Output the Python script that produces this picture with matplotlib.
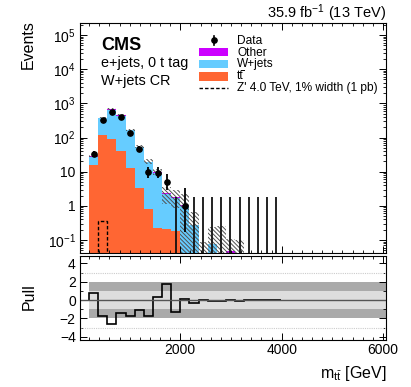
import numpy as np
import matplotlib
matplotlib.use('Agg')
import matplotlib.pyplot as plt
from matplotlib.ticker import NullFormatter, FixedLocator, FixedFormatter
from matplotlib.patches import Rectangle
from matplotlib.lines import Line2D

plt.rcParams['font.family'] = ['Liberation Sans', 'DejaVu Sans']
plt.rcParams['mathtext.fontset'] = 'custom'
plt.rcParams['mathtext.rm'] = 'Liberation Sans'
plt.rcParams['mathtext.it'] = 'Liberation Sans:italic'
plt.rcParams['mathtext.bf'] = 'Liberation Sans:bold'
plt.rcParams['mathtext.default'] = 'regular'
plt.rcParams['hatch.linewidth'] = 0.7
plt.rcParams['hatch.color'] = '#505050'

# ---------------- data ----------------
bin_low = 200
bin_width = 180
n_bins = 21
edges = bin_low + bin_width * np.arange(n_bins + 1)
centers = 0.5 * (edges[:-1] + edges[1:])

ttbar = np.array([15.8, 119, 89, 39, 12.6, 3.3, 0.82, 0.22, 0.21, 0.18, 0, 0, 0, 0, 0, 0, 0, 0, 0, 0, 0])
wjets = np.array([11.7, 241, 551, 394, 148, 47.7, 17.9, 9.2, 1.97, 1.49, 1.0, 0.27, 0.03, 0.077, 0.02, 0, 0.01, 0, 0, 0, 0])
other = np.array([1.5, 20, 35, 25, 9, 3, 1.1, 0.6, 0.12, 0.2, 0.05, 0.01, 0, 0, 0, 0.049, 0, 0, 0, 0, 0])
bkg_unc = np.array([2, 20, 35, 25, 12, 5, 3, 2, 1.2, 1.0, 1.2, 0.4, 0.06, 0.17, 0.23, 0.06, 0.09, 0, 0, 0, 0])

data = np.array([33, 335, 560, 408, 139, 47, 9.7, 9.4, 5.1, 0, 1, 0, 0, 0, 0, 0, 0, 0, 0, 0, 0])
data_err_lo = np.array([5.7, 18.3, 23.7, 20.2, 11.8, 6.8, 3.1, 3.0, 2.2, 0, 0.83, 0, 0, 0, 0, 0, 0, 0, 0, 0, 0])
data_err_hi = np.array([6.8, 19.3, 24.7, 21.2, 12.8, 7.9, 4.3, 4.2, 3.4, 1.84, 2.3, 1.84, 1.84, 1.84, 1.84,
                        1.84, 1.84, 1.84, 1.84, 1.84, 1.84])

signal = np.array([0, 0.36, 0, 0, 0, 0, 0, 0, 0, 0, 0, 0, 0, 0, 0, 0, 0, 0, 0, 0, 0])

pull = np.array([0.75, -1.77, -2.6, -1.43, -1.77, -1.06, -1.77, 0.38, 1.74, -1.32, 0.11, -0.3, 0.05, -0.06,
                 -0.15, -0.03, -0.1, 0, 0, 0, 0])

y_major = [0.1, 1, 10, 100, 1e3, 1e4, 1e5]
y_major_labels = [r'$10^{-1}$', '1', '10', r'$10^{2}$', r'$10^{3}$', r'$10^{4}$', r'$10^{5}$']
pull_ticks = [-4, -2, 0, 2, 4]
pull_ticklabels = ['\u22124', '\u22122', '0', '2', '4']
pull_minor = [-3, -1, 1, 3]

c_tt = '#ff6633'
c_wj = '#66ccff'
c_ot = '#cc00ff'

# ---------------- figure ----------------
W, H = 411, 387
fig = plt.figure(figsize=(W / 100, H / 100), dpi=100)

def fx(px):
    return px / W

def fy(py):
    return 1 - py / H

ax_l, ax_r = 80, 386
up_t, up_b = 22.7, 252.5
lo_t, lo_b = 256, 340

ax = fig.add_axes([fx(ax_l), fy(up_b), fx(ax_r - ax_l), (up_b - up_t) / H])
ax2 = fig.add_axes([fx(ax_l), fy(lo_b), fx(ax_r - ax_l), (lo_b - lo_t) / H])

floor = 1e-4
ax.set_yscale('log')
c1 = floor + ttbar
c2 = c1 + wjets
c3 = c2 + other
ax.stairs(c1, edges, baseline=floor, fill=True, color=c_tt, lw=0)
ax.stairs(c2, edges, baseline=c1, fill=True, color=c_wj, lw=0)
ax.stairs(c3, edges, baseline=c2, fill=True, color=c_ot, lw=0)
ax.stairs(c3 + bkg_unc, edges, baseline=np.maximum(c3 - bkg_unc, floor), fill=True,
          facecolor='none', edgecolor='#505050', hatch='\\\\\\\\\\\\\\\\', lw=0)

ax.stairs(floor + signal, edges, baseline=floor, color='k', ls=(0, (2.5, 1.5)), lw=1.0)

nz = data > 0
ax.errorbar(centers[nz], data[nz], yerr=[data_err_lo[nz], data_err_hi[nz]], fmt='o', ms=3.8,
            color='k', elinewidth=1.3, capsize=0)
ax.vlines(centers[~nz], floor, data_err_hi[~nz], color='#111111', lw=1.3)

ylo, yhi = 0.0431, 2.29e5
ax.set_xlim(20, 6060)
ax.set_ylim(ylo, yhi)

minor_vals = [m * 10.0 ** e for e in range(-2, 6) for m in range(2, 10)]
minor_vals = [v for v in minor_vals if ylo < v < yhi]
ax.yaxis.set_major_locator(FixedLocator(y_major))
ax.yaxis.set_major_formatter(FixedFormatter(y_major_labels))
ax.yaxis.set_minor_locator(FixedLocator(minor_vals))
ax.yaxis.set_minor_formatter(NullFormatter())
for a in (ax, ax2):
    a.xaxis.set_major_locator(FixedLocator([2000, 4000, 6000]))
    a.xaxis.set_minor_locator(FixedLocator([v for v in range(200, 6060, 200) if v % 2000]))
    a.tick_params(which='both', direction='in', top=True, right=True, labelsize=10)
    a.tick_params(which='major', length=4.8, width=0.7)
    a.tick_params(which='minor', length=2.4, width=0.6)
    for s in a.spines.values():
        s.set_linewidth(0.8)
ax.tick_params(axis='x', labelbottom=False)
ax.tick_params(axis='y', pad=3)

# lower pull panel
ax2.set_xlim(20, 6060)
x0, x1 = ax2.get_xlim()
ax2.fill_between([edges[0], x1], -2, 2, color='#aaaaaa', lw=0)
ax2.fill_between([edges[0], x1], -1, 1, color='#dddddd', lw=0)
ax2.axhline(0, color='#555555', lw=1.0)
for yv in (-3, 3):
    ax2.axhline(yv, color='#cccccc', lw=0.8, ls=(0, (1, 1)))
ax2.stairs(pull, edges, baseline=0, color='k', lw=1.2)
ax2.set_ylim(-4.36, 4.8)
ax2.yaxis.set_major_locator(FixedLocator(pull_ticks))
ax2.yaxis.set_major_formatter(FixedFormatter(pull_ticklabels))
ax2.yaxis.set_minor_locator(FixedLocator(pull_minor))
ax2.yaxis.set_minor_formatter(NullFormatter())
ax2.tick_params(axis='x', pad=2)
ax2.tick_params(axis='y', pad=3, labelsize=10)

# ---------------- texts ----------------
fig.text(fx(386), fy(18), r'35.9 fb$^{-1}$ (13 TeV)', ha='right', va='baseline', fontsize=10.5)
fig.text(fx(28), fy(20), 'Events', rotation=90, ha='center', va='top', fontsize=11.5)
fig.text(fx(29), fy(297), 'Pull', rotation=90, ha='center', va='center', fontsize=11.5)
fig.text(fx(386), fy(378), r'm$_{t\bar{t}}$ [GeV]', ha='right', va='baseline', fontsize=11.5)

fig.text(fx(101), fy(50), 'CMS', fontweight='bold', fontsize=13, ha='left', va='baseline')
fig.text(fx(101), fy(66.7), 'e+jets, 0 t tag', fontsize=10.4, ha='left', va='baseline')
fig.text(fx(101), fy(85), 'W+jets CR', fontsize=10.4, ha='left', va='baseline')

# legend (manual)
lx0, lx1 = 199, 228
tx = 237
leg_fs = 8.6
fig.add_artist(Line2D([fx((lx0 + lx1) / 2)] * 2, [fy(35.5), fy(44.5)], color='k', lw=1.2))
fig.add_artist(Line2D([fx((lx0 + lx1) / 2)], [fy(40)], marker='o', ms=3.8, color='k'))
for (yt, yb, col) in [(48.3, 56, c_ot), (60, 68.3, c_wj), (71.7, 80.7, c_tt)]:
    fig.add_artist(Rectangle((fx(lx0), fy(yb)), fx(lx1 - lx0), (yb - yt) / H, color=col, lw=0))
fig.add_artist(Line2D([fx(lx0), fx(lx1)], [fy(88), fy(88)], color='k', lw=1.0, ls=(0, (2.5, 1.5))))
labels = ['Data', 'Other', 'W+jets', 'tt', "Z' 4.0 TeV, 1% width (1 pb)"]
baselines = [43.8, 55.5, 67.2, 79.2, 91.0]
texts = []
for lab, yb in zip(labels, baselines):
    texts.append(fig.text(fx(tx), fy(yb), lab, fontsize=leg_fs, ha='left', va='baseline'))

# bar over the second t of "tt" (t-bar)
fig.canvas.draw()
bb = texts[3].get_window_extent(renderer=fig.canvas.get_renderer())
half = bb.width / 2
em_px = leg_fs * 100 / 72
bar_y = baselines[3] - 0.78 * em_px
fig.add_artist(Line2D([fx(tx + half + 0.3), fx(tx + 2 * half - 0.2)], [fy(bar_y), fy(bar_y)],
                      color='k', lw=0.7))

fig.savefig('out.png', dpi=100)
